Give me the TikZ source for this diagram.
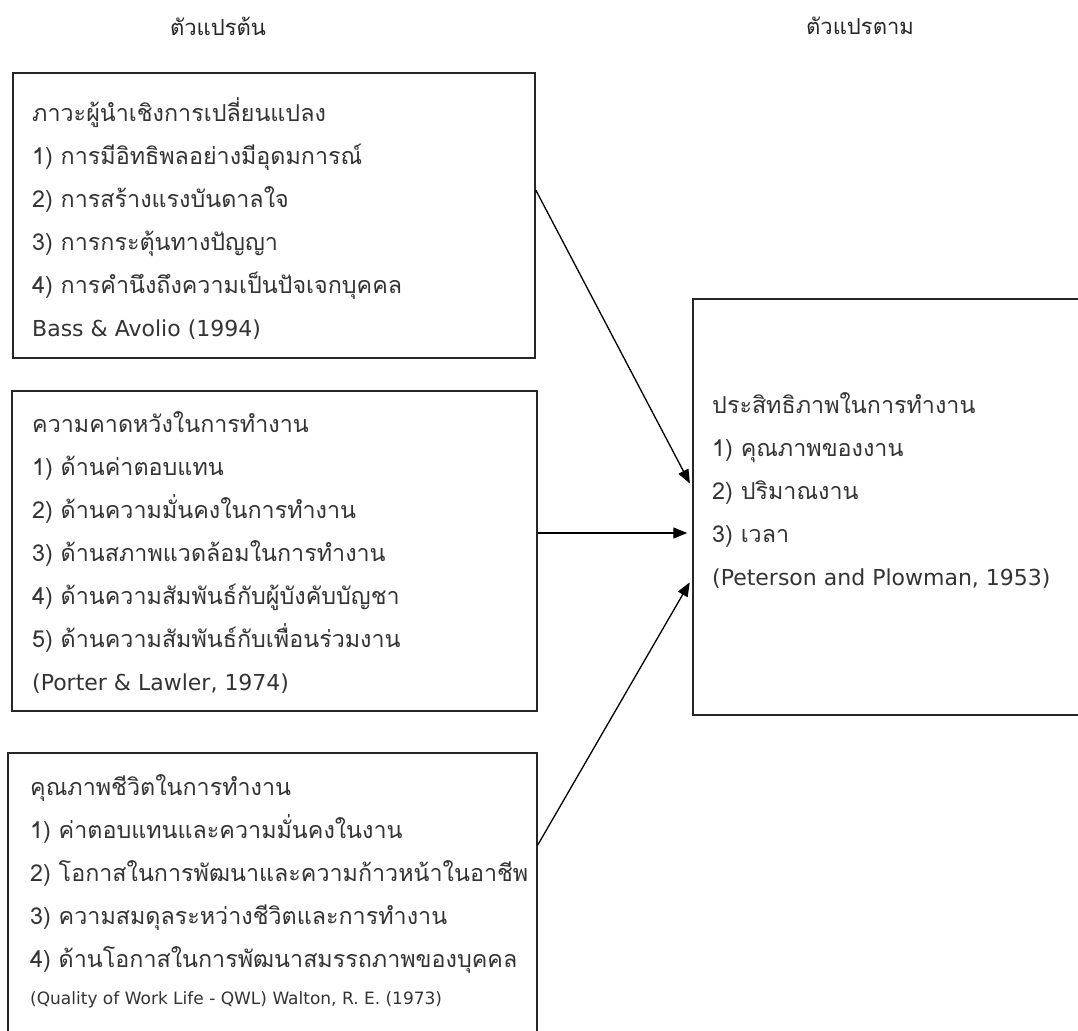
\documentclass[tikz,border=0pt]{standalone}
\usepackage{fontspec}
\setmainfont[Script=Thai]{Loma}
\newfontfamily\latinfont{DejaVu Sans}
\usetikzlibrary{positioning,arrows.meta}

\newcommand{\latinline}[1]{{\latinfont\fontsize{22}{43}\selectfont #1}}

\begin{document}
\begin{tikzpicture}[
  x=1pt, y=-1pt,
  varbox/.style={draw=black!85, line width=1.5pt, inner sep=0pt},
  itemtext/.style={anchor=base west, align=left, inner sep=0pt, text=black!80,
    font=\fontsize{23.3}{43}\selectfont},
  headtext/.style={text=black!85, font=\fontsize{22}{26}\selectfont},
  flow/.style={line width=1.3pt, -{Triangle[length=14pt,width=11pt]}, shorten >=5pt}
]
\useasboundingbox (0,0) rectangle (1078,1030);
\node[headtext] (indhead) at (218,26) {ตัวแปรต้น};
\node[headtext] (dephead) at (860,26) {ตัวแปรตาม};
% frames of the three independent variables and the dependent one
\node[varbox, minimum width=522pt, minimum height=285pt] (ind1) at (274,215.5) {};
\node[varbox, minimum width=525pt, minimum height=320pt] (ind2) at (274.5,551) {};
\node[varbox, minimum width=529pt, minimum height=290pt] (ind3) at (272.5,898) {};
\node[varbox, minimum width=397pt, minimum height=416pt] (dep) at (891.5,507) {};
% base of a block = baseline of its last line
\node[itemtext] (ind1text) at (32,336)
  {ภาวะผู้นำเชิงการเปลี่ยนแปลง\\
   1) การมีอิทธิพลอย่างมีอุดมการณ์\\
   2) การสร้างแรงบันดาลใจ\\
   3) การกระตุ้นทางปัญญา\\
   4) การคำนึงถึงความเป็นปัจเจกบุคคล\\
   \latinline{Bass \& Avolio (1994)}};
\node[itemtext] (ind2text) at (32,690)
  {ความคาดหวังในการทำงาน\\
   1) ด้านค่าตอบแทน\\
   2) ด้านความมั่นคงในการทำงาน\\
   3) ด้านสภาพแวดล้อมในการทำงาน\\
   4) ด้านความสัมพันธ์กับผู้บังคับบัญชา\\
   5) ด้านความสัมพันธ์กับเพื่อนร่วมงาน\\
   \latinline{(Porter \& Lawler, 1974)}};
\node[itemtext] (ind3text) at (30,1004)
  {คุณภาพชีวิตในการทำงาน\\
   1) ค่าตอบแทนและความมั่นคงในงาน\\
   2) โอกาสในการพัฒนาและความก้าวหน้าในอาชีพ\\
   3) ความสมดุลระหว่างชีวิตและการทำงาน\\
   4) ด้านโอกาสในการพัฒนาสมรรถภาพของบุคคล\\[-6pt]
   {\latinfont\fontsize{17}{20}\selectfont (Quality of Work Life - QWL) Walton, R. E. (1973)}};
\node[itemtext] (deptext) at (712,585)
  {ประสิทธิภาพในการทำงาน\\
   1) คุณภาพของงาน\\
   2) ปริมาณงาน\\
   3) เวลา\\
   \latinline{(Peterson and Plowman, 1953)}};
\draw[flow] ([yshift=25.5pt]ind1.east) -- ([yshift=19pt]dep.west);
\draw[flow] ([yshift=18pt]ind2.east) -- ([yshift=-26pt]dep.west);
\draw[flow] ([yshift=53pt]ind3.east) -- ([yshift=-71pt]dep.west);
\end{tikzpicture}
\end{document}
